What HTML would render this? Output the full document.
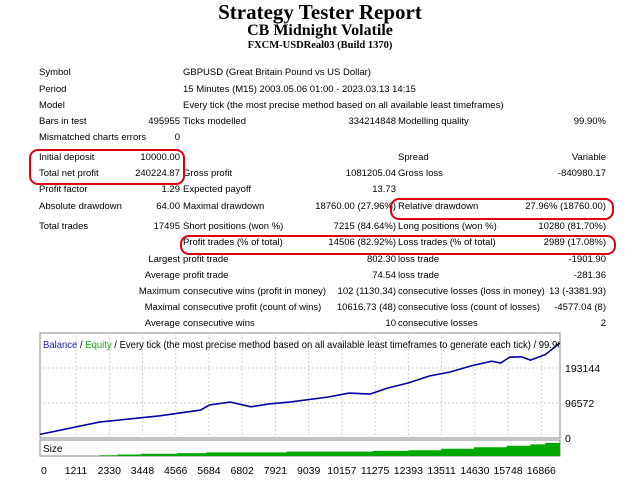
<!DOCTYPE html>
<html><head><meta charset="utf-8"><style>
body{margin:0;width:640px;height:480px;background:#fff;position:relative;overflow:hidden;font-family:"Liberation Sans",sans-serif;}
.t{position:absolute;white-space:nowrap;font-size:9.5px;color:#000;line-height:12px;}
.r{text-align:right;}
.h{position:absolute;left:0;width:640px;text-align:center;font-family:"Liberation Serif",serif;font-weight:bold;color:#000;}
.ov{position:absolute;border:2px solid #e00010;border-radius:9px;}
</style></head><body>
<div class="h" style="top:0px;font-size:21px;">Strategy Tester Report</div>
<div class="h" style="top:22px;font-size:16px;">CB Midnight Volatile</div>
<div class="h" style="top:40px;font-size:10.5px;">FXCM-USDReal03 (Build 1370)</div>
<div id="tbl"></div>
<div class="ov" style="left:29px;top:149px;width:152px;height:32px;"></div>
<div class="ov" style="left:390px;top:198px;width:220px;height:18px;"></div>
<div class="ov" style="left:180px;top:235px;width:432px;height:16px;"></div>
<svg id="chart" width="640" height="480" style="position:absolute;left:0;top:0;"></svg>
<script>
const rows=[
[73,"Symbol","","GBPUSD (Great Britain Pound vs US Dollar)","","",""],
[90,"Period","","15 Minutes (M15) 2003.05.06 01:00 - 2023.03.13 14:15","","",""],
[106,"Model","","Every tick (the most precise method based on all available least timeframes)","","",""],
[122,"Bars in test","495955","Ticks modelled","334214848","Modelling quality","99.90%"],
[138,"Mismatched charts errors","0","","","",""],
[158,"Initial deposit","10000.00","","","Spread","Variable"],
[174,"Total net profit","240224.87","Gross profit","1081205.04","Gross loss","-840980.17"],
[190,"Profit factor","1.29","Expected payoff","13.73","",""],
[207,"Absolute drawdown","64.00","Maximal drawdown","18760.00 (27.96%)","Relative drawdown","27.96% (18760.00)"],
[227,"Total trades","17495","Short positions (won %)","7215 (84.64%)","Long positions (won %)","10280 (81.70%)"],
[243,"","","Profit trades (% of total)","14506 (82.92%)","Loss trades (% of total)","2989 (17.08%)"],
[260,"","Largest","profit trade","802.30","loss trade","-1901.90"],
[276,"","Average","profit trade","74.54","loss trade","-281.36"],
[292,"","Maximum","consecutive wins (profit in money)","102 (1130.34)","consecutive losses (loss in money)","13 (-3381.93)"],
[308,"","Maximal","consecutive profit (count of wins)","10616.73 (48)","consecutive loss (count of losses)","-4577.04 (8)"],
[324,"","Average","consecutive wins","10","consecutive losses","2"]];
const tbl=document.getElementById('tbl');
function cell(txt,x,y,right){if(!txt)return;const d=document.createElement('div');d.className='t'+(right?' r':'');


d.textContent=txt;d.style.top=(y-6)+'px';if(right){d.style.right=(640-x)+'px';}else d.style.left=x+'px';tbl.appendChild(d);}
rows.forEach(r=>{const y=r[0];cell(r[1],39,y,false);cell(r[2],180,y,true);cell(r[3],183,y,false);cell(r[4],396,y,true);cell(r[5],398,y,false);cell(r[6],606,y,true);});

const tradeIdx=[0,2000,4000,5400,5700,6400,7100,7700,8400,9700,10400,11100,11700,12400,13100,13800,14500,15200,15500,15800,16200,16500,17000,17495];
const balance=[10000,44000,61000,77000,91000,99000,86000,94000,99000,113000,124000,121000,138000,152000,171000,182000,199000,212000,207000,223000,224000,215000,230000,262000];
const sizeIdx=[0,2000,2600,3400,4600,5600,7000,8300,10000,11200,12400,13500,14600,15700,16500,17000,17495];
const sizeVal=[0,1,2,3,4,5,5,6,6,7,8,10,12,14,16,18,22];
const xTicks=[0,1211,2330,3448,4566,5684,6802,7921,9039,10157,11275,12393,13511,14630,15748,16866];
const yTicks=[0,96572,193144];
const svg=document.getElementById('chart');const NS='http://www.w3.org/2000/svg';
const L=40,R=560,T=333,B=438,ST=440,SB=456;
const xs=v=>L+(v/17495)*(R-L);
const ys=v=>B-(v/96572)*35;
const ss=v=>SB-(v/22)*16;
function el(t,a,p){const e=document.createElementNS(NS,t);for(const k in a)e.setAttribute(k,a[k]);(p||svg).appendChild(e);return e;}
const cp=el('clipPath',{id:'c'});el('rect',{x:0,y:0,width:R-1,height:480},cp);
const frame=el('rect',{x:L,y:T,width:R-L,height:B-T,fill:'#fff',stroke:'#888'});


const sframe=el('rect',{x:L,y:ST,width:R-L,height:SB-ST,fill:'#fff',stroke:'#888'});


xTicks.forEach((v,i)=>{const x=xs(v);if(i>0){const g=el('line',{x1:x,y1:T,x2:x,y2:B,stroke:'#ccc','stroke-dasharray':'2,2'});

}
const t=el('text',{x:i==0?41:x,y:474,'font-size':10.5,'text-anchor':i==0?'start':'middle','font-family':'Liberation Sans, sans-serif'});t.textContent=v;

});
yTicks.forEach(v=>{const y=ys(v);if(v>0){const g=el('line',{x1:L,y1:y,x2:R,y2:y,stroke:'#ccc','stroke-dasharray':'2,2'});

}
const t=el('text',{x:565,y:y+4,'font-size':10.5,'font-family':'Liberation Sans, sans-serif'});t.textContent=v;

});
let d='';tradeIdx.forEach((v,i)=>{d+=(i?'L':'M')+xs(v).toFixed(1)+','+Math.max(T+2,ys(balance[i])).toFixed(1);});
const line=el('path',{d:d,fill:'none',stroke:'#0000a8','stroke-width':1.6});


let sd='M'+xs(0)+','+SB;sizeIdx.forEach((v,i)=>{const x=xs(v);const y=ss(sizeVal[i]);sd+='L'+x.toFixed(1)+','+(i?ss(sizeVal[i-1]).toFixed(1):SB)+'L'+x.toFixed(1)+','+y.toFixed(1);});sd+='L'+R+','+ss(sizeVal[sizeVal.length-1])+'L'+R+','+SB+'Z';
const area=el('path',{d:sd,fill:'#00a800'});


const cap=el('text',{x:43,y:348,'font-size':10.5,'font-family':'Liberation Sans, sans-serif',textLength:528,lengthAdjust:'spacingAndGlyphs','clip-path':'url(#c)'});


cap.innerHTML='<tspan fill="#2020b0">Balance</tspan> / <tspan fill="#20a020">Equity</tspan> / Every tick (the most precise method based on all available least timeframes to generate each tick) / 99.90%';
const sl=el('text',{x:43,y:452,'font-size':10,'font-family':'Liberation Sans, sans-serif'});sl.textContent='Size';


</script>
</body></html>
